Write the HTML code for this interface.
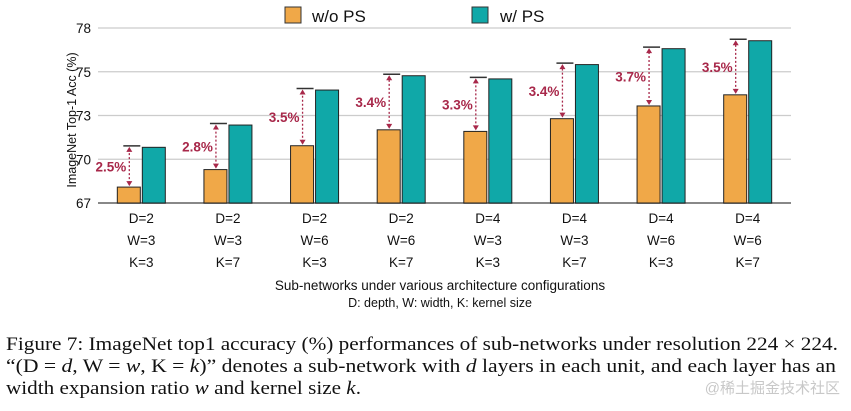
<!DOCTYPE html>
<html><head><meta charset="utf-8"><style>
body{margin:0;background:#fff;width:851px;height:411px;overflow:hidden}
svg{display:block}
.s{font-family:"Liberation Sans",Arial,sans-serif}
.r{font-family:"Liberation Serif","Times New Roman",serif}
</style></head><body>
<svg id="chart" width="851" height="411" viewBox="0 0 851 411">
<g id="grid"></g><g id="bars"></g><g id="xl"></g>
<g>
<rect x="285" y="7" width="16" height="16" fill="#f0a848" stroke="#333"/>
<text x="312" y="22" class="s" font-size="17" fill="#111">w/o PS</text>
<rect x="472" y="7" width="16" height="16" fill="#10a8a8" stroke="#333"/>
<text x="500" y="22" class="s" font-size="17" fill="#111">w/ PS</text>
</g>
<text transform="translate(76,120) rotate(-90)" text-anchor="middle" class="s" font-size="12.5" fill="#111">ImageNet Top-1 Acc (%)</text>
<text x="440" y="290" text-anchor="middle" class="s" font-size="13.5" fill="#111">Sub-networks under various architecture configurations</text>
<text x="440" y="307" text-anchor="middle" class="s" font-size="12.5" fill="#111">D: depth, W: width, K: kernel size</text>
<g class="r" font-size="19" fill="#111">
<text x="6" y="350" textLength="832" lengthAdjust="spacingAndGlyphs">Figure 7: ImageNet top1 accuracy (%) performances of sub-networks under resolution 224 × 224.</text>
<text x="6" y="372" textLength="830" lengthAdjust="spacingAndGlyphs">“(D = <tspan font-style="italic">d</tspan>, W = <tspan font-style="italic">w</tspan>, K = <tspan font-style="italic">k</tspan>)” denotes a sub-network with <tspan font-style="italic">d</tspan> layers in each unit, and each layer has an</text>
<text x="6" y="394" textLength="355" lengthAdjust="spacingAndGlyphs">width expansion ratio <tspan font-style="italic">w</tspan> and kernel size <tspan font-style="italic">k</tspan>.</text>
</g>
<text x="840" y="393" text-anchor="end" font-family="'Liberation Sans','Noto Sans CJK SC',sans-serif" font-size="15" fill="#c8c8c8">@稀土掘金技术社区</text>
</svg>
<script>
const categoriesD=["D=2","D=2","D=2","D=2","D=4","D=4","D=4","D=4"];
const categoriesW=["W=3","W=3","W=6","W=6","W=3","W=3","W=6","W=6"];
const categoriesK=["K=3","K=7","K=3","K=7","K=3","K=7","K=3","K=7"];
const woPS=[68.0,69.1,70.6,71.6,71.5,72.3,73.1,73.8];
const wPS=[70.5,71.9,74.1,75.0,74.8,75.7,76.7,77.2];
const gains=["2.5%","2.8%","3.5%","3.4%","3.3%","3.4%","3.7%","3.5%"];
const tickVals=[67,69.75,72.5,75.25,78];
const tickLabels=["67","70","73","75","78"];
const NS="http://www.w3.org/2000/svg";
const y0=203,y1=28,vmin=67,vmax=78,xL=98,xR=791;
const y=v=>y0-(v-vmin)/(vmax-vmin)*(y0-y1);
const step=(xR-xL)/categoriesD.length;
const cx=i=>xL+step*(i+0.5);
function mk(tag,attrs,parent,txt){const e=document.createElementNS(NS,tag);for(const k in attrs)e.setAttribute(k,attrs[k]);if(txt!==undefined)e.textContent=txt;parent.appendChild(e);return e;}
const G=document.getElementById('grid'),B=document.getElementById('bars'),X=document.getElementById('xl');
tickVals.forEach((v,i)=>{
 const l=mk('line',{x1:xL,x2:xR,y1:y(v),y2:y(v),stroke:i==0?'#888':'#ccc','stroke-width':i==0?2:1.2},G);
 
 
 const t=mk('text',{x:91,y:y(v)+5,'text-anchor':'end','class':'s','font-size':13.5,fill:'#111'},G,tickLabels[i]);
 
 
});
woPS.forEach((v,i)=>{
 const c=cx(i);
 const a=mk('rect',{x:c-24,y:y(v),width:23,height:y0-y(v),fill:'#f0a848',stroke:'#222','stroke-width':1},B);
 
 
 const b=mk('rect',{x:c+1,y:y(wPS[i]),width:23,height:y0-y(wPS[i]),fill:'#10a8a8',stroke:'#222','stroke-width':1},B);
 
 
 const capY=y(wPS[i])-1.5;
 const cap=mk('line',{x1:c-18,x2:c-1,y1:capY,y2:capY,stroke:'#333','stroke-width':1.5},B);
 
 
 const ax=c-12;
 const ar=mk('line',{x1:ax,x2:ax,y1:y(v)-4,y2:capY+4,stroke:'#a8284a','stroke-width':1.3,'stroke-dasharray':'2,2'},B);
 
 
 const h1=mk('path',{d:`M${ax-3},${capY+6}L${ax},${capY+1}L${ax+3},${capY+6}Z`,fill:'#a8284a'},B);
 
 
 const h2=mk('path',{d:`M${ax-3},${y(v)-6}L${ax},${y(v)-1}L${ax+3},${y(v)-6}Z`,fill:'#a8284a'},B);
 
 
 const gl=mk('text',{x:ax-3,y:(y(v)+capY)/2+5,'text-anchor':'end','class':'s','font-size':13.5,'font-weight':'bold',fill:'#a8284a'},B,gains[i]);
 
 
 [categoriesD,categoriesW,categoriesK].forEach((arr,j)=>{
  const t=mk('text',{x:c,y:223+j*22,'text-anchor':'middle','class':'s','font-size':13.5,fill:'#111'},X,arr[i]);
  
  
 });
});
</script>
</body></html>
